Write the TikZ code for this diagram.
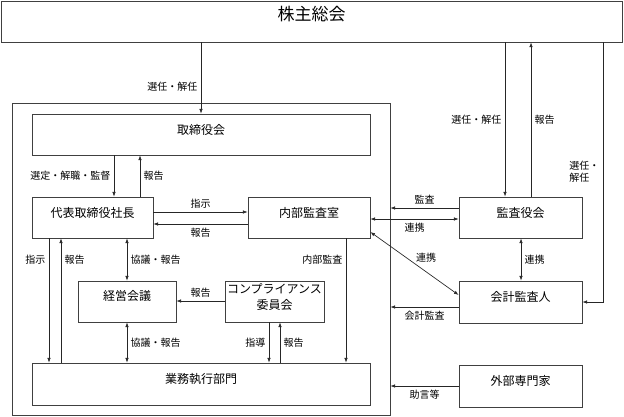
\documentclass[tikz,border=0pt]{standalone}
\usepackage{fontspec}
\setmainfont{Noto Sans CJK JP}
\usetikzlibrary{arrows.meta,fit}

\tikzset{
  box/.style={draw=black!75, line width=0.6pt, inner sep=0pt, fill=white,
    font=\fontsize{9pt}{12pt}\selectfont, align=center},
  arr/.style={-{Latex[length=3.5pt,width=2.6pt]}, draw=black!85, line width=0.5pt},
  darr/.style={{Latex[length=3.5pt,width=2.6pt]}-{Latex[length=3.5pt,width=2.6pt]},
    draw=black!85, line width=0.5pt},
  lab/.style={font=\fontsize{7.5pt}{9pt}\selectfont, inner sep=2.5pt, align=left}
}

\begin{document}
\begin{tikzpicture}[x=0.75pt, y=-0.75pt]
  \useasboundingbox (0,0) rectangle (624,417);

  % group frame
  \node (grp) [box, fit={(12,103) (390,415.5)}] {};

  \node (n0) [box, fit={(1,1) (622,42)}, font=\fontsize{12.75pt}{15pt}\selectfont] {株主総会};
  \node (n1) [box, fit={(32,114) (370,155)}] {取締役会};
  \node (n2) [box, fit={(32,197) (153,238)}] {代表取締役社長};
  \node (n3) [box, fit={(248,197) (370,238)}] {内部監査室};
  \node (n4) [box, fit={(459,197) (582,238)}] {監査役会};
  \node (n5) [box, fit={(459,281) (582,323)}] {会計監査人};
  \node (n6) [box, fit={(459,365) (582,407)}] {外部専門家};
  \node (n7) [box, fit={(78,281) (176,322)}] {経営会議};
  \node (n8) [box, fit={(225,281) (324,322)}] {コンプライアンス\\委員会};
  \node (n9) [box, fit={(32,363) (370,405)}] {業務執行部門};

  \draw[arr] (201,0 |- n0.south) -- node[lab, left, pos=0.625] {選任・解任} (201,0 |- n1.north);
  \draw[arr] (114,0 |- n1.south) -- node[lab, left] {選定・解職・監督} (114,0 |- n2.north);
  \draw[arr] (140,0 |- n2.north) -- node[lab, right] {報告} (140,0 |- n1.south);
  \draw[arr] (n2.east |- 0,212) -- node[lab, above] {指示} (n3.west |- 0,212);
  \draw[arr] (n3.west |- 0,224) -- node[lab, below] {報告} (n2.east |- 0,224);

  \draw[arr] (505,0 |- n0.south) -- node[lab, left] {選任・解任} (505,0 |- n4.north);
  \draw[arr] (531,0 |- n4.north) -- node[lab, right, pos=0.5] {報告} (531,0 |- n0.south);
  \draw[arr] (603,0 |- n0.south) |- node[lab, left, pos=0.25] {選任・\\解任} (n5.east |- 0,302);

  \draw[arr] (n4.west |- 0,208) -- node[lab, above] {監査} (grp.east |- 0,208);
  \draw[darr] (n3.east |- 0,219) -- node[lab, below] {連携} (n4.west |- 0,219);
  \draw[darr] (n3.east |- 0,232) -- node[lab, above right, inner sep=1pt] {連携} (n5.west |- 0,295);
  \draw[darr] (521,0 |- n4.south) -- node[lab, right] {連携} (521,0 |- n5.north);
  \draw[arr] (n5.west |- 0,307) -- node[lab, below] {会計監査} (grp.east |- 0,307);
  \draw[arr] (n6.west |- 0,386) -- node[lab, below] {助言等} (grp.east |- 0,386);

  \draw[arr] (346,0 |- n3.south) -- node[lab, left, pos=0.17] {内部監査} (346,0 |- n9.north);
  \draw[arr] (49,0 |- n2.south) -- node[lab, left, pos=0.17] {指示} (49,0 |- n9.north);
  \draw[arr] (61,0 |- n9.north) -- node[lab, right, pos=0.83] {報告} (61,0 |- n2.south);
  \draw[darr] (127,0 |- n2.south) -- node[lab, right] {協議・報告} (127,0 |- n7.north);
  \draw[darr] (127,0 |- n7.south) -- node[lab, right] {協議・報告} (127,0 |- n9.north);
  \draw[arr] (n8.west |- 0,301) -- node[lab, above] {報告} (n7.east |- 0,301);
  \draw[arr] (269,0 |- n8.south) -- node[lab, left] {指導} (269,0 |- n9.north);
  \draw[arr] (280,0 |- n9.north) -- node[lab, right] {報告} (280,0 |- n8.south);
\end{tikzpicture}
\end{document}
